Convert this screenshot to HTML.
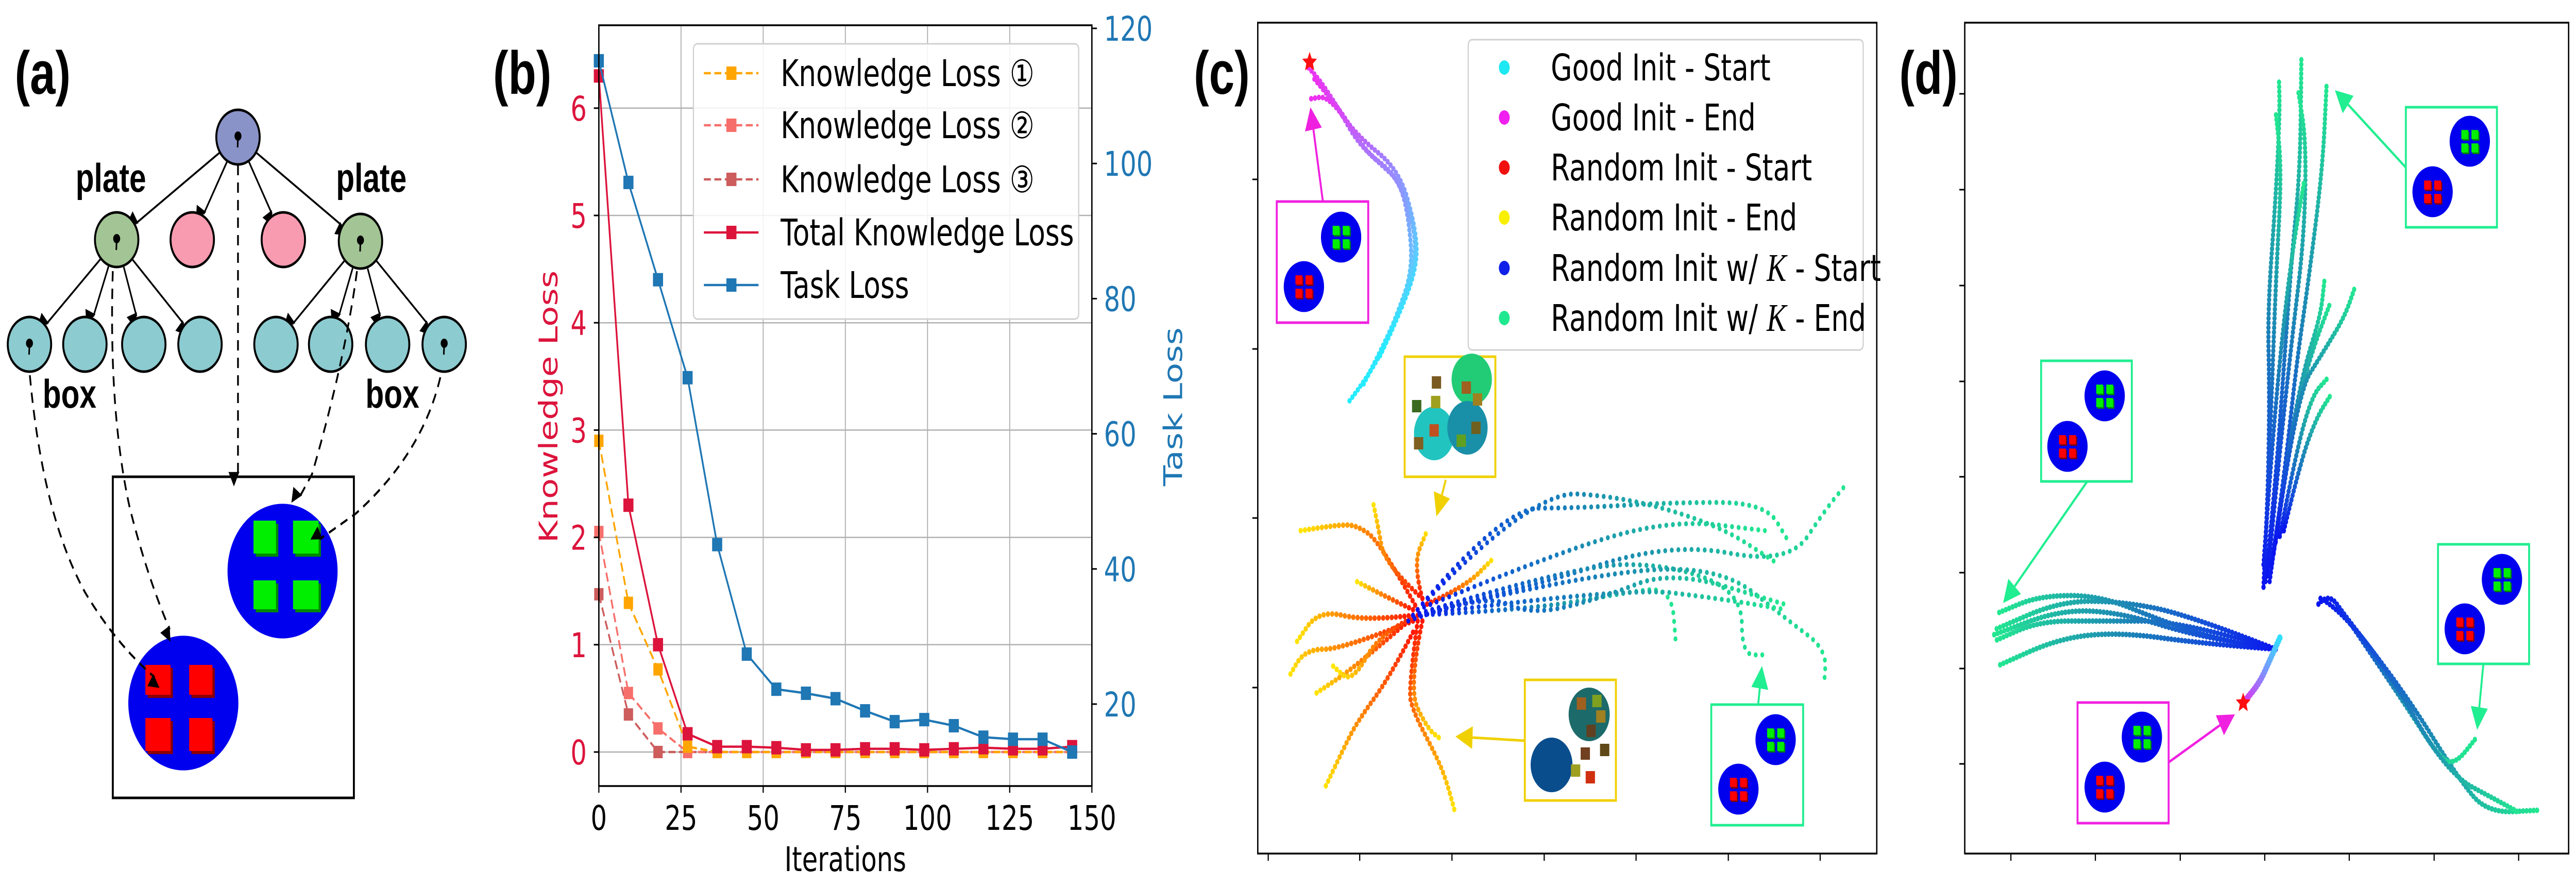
<!DOCTYPE html>
<html><head><meta charset="utf-8"><style>
html,body{margin:0;padding:0;background:#fff;overflow:hidden;width:100vw;height:100vh;}
svg{display:block;width:100vw;height:100vh;}
text{font-family:"DejaVu Sans","Liberation Sans",sans-serif;}
.bold{font-family:"Liberation Sans",sans-serif;font-weight:bold;}
</style></head><body>
<svg id="fig" xmlns="http://www.w3.org/2000/svg" viewBox="0 0 6646 1717" preserveAspectRatio="none">
<defs>
<marker id="ah" viewBox="0 0 10 10" refX="9" refY="5" markerWidth="7" markerHeight="7" orient="auto-start-reverse" markerUnits="userSpaceOnUse" style="overflow:visible">
<path d="M0,0 L10,5 L0,10 z" fill="#000" transform="scale(4)"/></marker>
</defs>
<rect width="6646" height="1717" fill="#fff"/>

<g id="panel-a">
<text class="bold" x="38" y="182" font-size="118">(a)</text>
<text class="bold" x="195" y="372" font-size="78">plate</text>
<text class="bold" x="867" y="372" font-size="78">plate</text>
<text class="bold" x="110" y="791" font-size="78">box</text>
<text class="bold" x="943" y="791" font-size="78">box</text>
<rect x="291" y="925" width="622" height="623" fill="#fff" stroke="#000" stroke-width="5"/>
<g id="a-edges"></g>
<g id="a-nodes"></g>
<g id="a-scene"></g>
<g id="a-dashed"></g>
</g>

<g id="panel-b">
<text class="bold" x="1272" y="182" font-size="118">(b)</text>
<g id="b-grid"></g>
<g id="b-series"></g>
<g id="b-axes"></g>
<g id="b-legend"></g>
</g>

<g id="panel-c">
<text class="bold" x="3080" y="182" font-size="118">(c)</text>
<g id="c-traj"></g>
<g id="c-insets"></g>
<g id="c-axes"></g>
<g id="c-legend"></g>
</g>

<g id="panel-d">
<text class="bold" x="4900" y="182" font-size="118">(d)</text>
<g id="d-traj"></g>
<g id="d-insets"></g>
<g id="d-axes"></g>
</g>
</svg>
<script>
const iterations = [0, 9, 18, 27, 36, 45, 54, 63, 72, 81, 90, 99, 108, 117, 126, 135, 144];
const taskLoss = [115.2, 97.2, 82.8, 68.3, 43.6, 27.4, 22.2, 21.6, 20.8, 19.0, 17.4, 17.7, 16.8, 15.1, 14.8, 14.8, 12.9];
const totalKnowledgeLoss = [6.3, 2.3, 1.0, 0.17, 0.05, 0.05, 0.04, 0.02, 0.02, 0.03, 0.03, 0.02, 0.03, 0.04, 0.03, 0.03, 0.05];
const knowledgeLoss1 = [2.9, 1.39, 0.77, 0.05, 0, 0, 0, 0, 0, 0, 0, 0, 0, 0, 0, 0, 0];
const knowledgeLoss2 = [2.05, 0.55, 0.22, 0, 0, 0, 0, 0, 0, 0, 0, 0, 0, 0, 0, 0, 0];
const knowledgeLoss3 = [1.47, 0.35, 0, 0, 0, 0, 0, 0, 0, 0, 0, 0, 0, 0, 0, 0, 0];
const xTicks = [0, 25, 50, 75, 100, 125, 150];
const leftTicks = [0, 1, 2, 3, 4, 5, 6];
const rightTicks = [20, 40, 60, 80, 100, 120];
const legendLabels = ["Knowledge Loss \u2460", "Knowledge Loss \u2461", "Knowledge Loss \u2462", "Total Knowledge Loss", "Task Loss"];

const cGoodInit = [
 [[315,710],[370,650],[410,570],[450,480],[440,380],[420,320],[380,290],[330,250],[290,190],[250,140],[225,118]],
 [[345,680],[395,600],[440,510],[460,430],[430,340],[400,300],[350,270],[300,200],[240,140]],
 [[380,630],[420,560],[460,470],[455,400],[420,300],[330,240],[270,170],[232,175]]
];
const cRandomInit = [
 [[460,1080],[380,960],[330,930],[290,930],[210,940]],
 [[470,1060],[390,1000],[375,930],[365,890]],
 [[450,1100],[300,1150],[220,1150],[185,1200]],
 [[450,1120],[400,1200],[330,1280],[300,1330],[260,1400]],
 [[460,1100],[440,1220],[450,1260],[500,1340],[520,1380],[540,1440]],
 [[470,1100],[440,1220],[480,1290],[510,1310]],
 [[470,1060],[450,1000],[480,940]],
 [[480,1070],[560,1040],[620,990]],
 [[450,1090],[350,1100],[250,1080],[200,1140]],
 [[440,1100],[330,1180],[240,1230]],
 [[450,1080],[400,1060],[330,1030]],
 [[460,1090],[380,1120],[320,1210],[280,1180]]
];
const cRandomInitK = [
 [[450,1090],[700,1040],[1000,960],[1250,1000],[1330,900],[1375,855]],
 [[460,1080],[640,900],[800,900],[1000,890],[1200,890],[1250,960]],
 [[460,1080],[700,870],[900,880],[1100,930],[1220,995]],
 [[450,1090],[700,1080],[900,1050],[1000,1040],[1010,1145]],
 [[450,1090],[800,1000],[1000,1000],[1150,1050],[1150,1160],[1200,1160]],
 [[450,1090],[800,1020],[1100,1000],[1250,1100],[1330,1150],[1325,1215]],
 [[450,1090],[900,1040],[1100,1060],[1245,1080]],
 [[460,1080],[750,980],[1000,920],[1200,940]],
 [[440,1100],[600,1050],[700,1090],[850,1060],[1000,1010],[1240,1070]]
];
const cLegendLabels = ["Good Init - Start", "Good Init - End", "Random Init - Start", "Random Init - End", "Random Init w/ ", "Random Init w/ "];
const cLegendSuffix = ["", "", "", "", "- Start", "- End"];
const cLegendColors = ["#1ee8f2", "#f020f0", "#f01010", "#f8f000", "#1020e8", "#20e890"];

const dUp = [
 [[800,1040],[810,900],[815,700],[810,550],[830,350],[840,200],[838,140]],
 [[805,1030],[830,850],[850,650],[870,450],[890,300],[893,105]],
 [[810,1020],[840,800],[870,600],[900,420],[905,250],[885,160]],
 [[815,1030],[850,850],[880,650],[910,500],[945,300],[955,150]],
 [[800,1000],[820,800],[845,600],[870,450],[900,320]],
 [[820,1000],[860,800],[900,650],[940,560],[950,495]],
 [[825,980],[870,750],[920,620],[965,535]],
 [[830,960],[880,700],[950,620],[1000,560],[1025,508]],
 [[840,950],[880,800],[920,700],[955,672]],
 [[850,940],[890,820],[930,740],[965,700]],
 [[800,1040],[815,800],[830,500],[845,300],[830,200]]
];
const dLeft = [
 [[830,1150],[700,1135],[550,1100],[400,1055],[250,1055],[150,1085]],
 [[830,1150],[650,1130],[450,1085],[300,1080],[135,1125]],
 [[830,1150],[650,1140],[450,1120],[300,1130],[145,1180]],
 [[830,1150],[600,1100],[400,1100],[250,1100],[140,1135]],
 [[830,1150],[620,1090],[450,1065],[300,1065],[140,1115]]
];
const dRight = [
 [[935,1070],[960,1050],[1000,1090],[1150,1230],[1280,1380],[1350,1440],[1480,1435]],
 [[935,1070],[960,1050],[1000,1090],[1150,1250],[1230,1340],[1270,1355],[1325,1305]],
 [[940,1060],[980,1075],[1100,1180],[1250,1370],[1380,1420],[1430,1440]]
];
const dGood = [[[840,1130],[815,1170],[790,1210],[750,1245]]];

const NS = "http://www.w3.org/2000/svg";
function el(tag, attrs, parent) {
  const e = document.createElementNS(NS, tag);
  for (const k in attrs) e.setAttribute(k, attrs[k]);
  if (parent) parent.appendChild(e);
  return e;
}

(function(){
  const nodes = document.getElementById('a-nodes');
  const edges = document.getElementById('a-edges');
  const R = 56;
  const root = {x:614,y:266,c:'#8a93c8',pin:true,n:'root-node'};
  const l1 = [{x:301,y:465,c:'#a3c494',pin:true,n:'plate-node-left'},{x:496,y:465,c:'#f99bb0',n:'pink-node-1'},{x:731,y:465,c:'#f99bb0',n:'pink-node-2'},{x:930,y:468,c:'#a3c494',pin:true,n:'plate-node-right'}];
  const bx = [76,219,371,516,712,853,1000,1146];
  const l2 = bx.map((x,i)=>({x:x,y:668,c:'#8ccbd0',pin:(i==0||i==7),n:'box-node-'+(i+1)}));
  function edge(a,b){
    const dx=b.x-a.x, dy=b.y-a.y, L=Math.hypot(dx,dy);
    const e = el('line',{x1:a.x+dx/L*R,y1:a.y+dy/L*R,x2:b.x-dx/L*(R+2),y2:b.y-dy/L*(R+2),stroke:'#000','stroke-width':4,'marker-end':'url(#ah)'},edges);
    
    
  }
  l1.forEach(n=>edge(root,n));
  l2.slice(0,4).forEach(n=>edge(l1[0],n));
  l2.slice(4).forEach(n=>edge(l1[3],n));
  [root].concat(l1,l2).forEach(n=>{
    const c = el('ellipse',{cx:n.x,cy:n.y,rx:56,ry:53,fill:n.c,stroke:'#000','stroke-width':5},nodes);
    
    
    if(n.pin){
      el('circle',{cx:n.x,cy:n.y-2,r:9,fill:'#000'},nodes);
      el('line',{x1:n.x,y1:n.y,x2:n.x-1,y2:n.y+20,stroke:'#000','stroke-width':4},nodes);
    }
  });
  const sc = document.getElementById('a-scene');
  function plate(cx,cy,r,col,sq,dark,name){
    const g = el('g',{},sc);
    
    
    el('ellipse',{cx:cx,cy:cy,rx:r,ry:r*0.92,fill:'#0000ee'},g);
    sq.forEach(s=>{
      el('rect',{x:s[0]+6,y:s[1]+6,width:s[2],height:s[3],fill:dark},g);
      el('rect',{x:s[0],y:s[1],width:s[2],height:s[3],fill:col},g);
    });
  }
  plate(729,1108,142,'#00ee00',[[654,1010,58,64],[756,1010,66,64],[654,1126,58,56],[756,1126,66,56]],'#008800','green-plate');
  plate(473,1364,142,'#ff0000',[[375,1290,65,58],[488,1290,60,58],[375,1393,65,64],[488,1393,60,64]],'#8a0000','red-plate');
  const dd = document.getElementById('a-dashed');
  const dpaths = [
    "M77,728 Q110,1000 220,1150 Q300,1250 399,1314",
    "M291,526 Q280,800 335,986 Q380,1120 438,1221",
    "M921,526 Q890,700 805,920 L773,964",
    "M614,320 L614,922",
    "M1136,732 Q1090,880 917,997 L825,1046"
  ];
  dpaths.forEach(d=>{
    const p = el('path',{d:d,fill:'none',stroke:'#000','stroke-width':4.5,'stroke-dasharray':'20 14','marker-end':'url(#ah)'},dd);
    
    
  });
})();

(function(){
  const X0=1545, X1=2817, Y0=49, Y1=1525;
  const xS = v => X0 + (v-0)*(X1-X0)/150;
  const yL = v => 1459 - v*208.2;
  const yR = v => 1366 - (v-20)*13.11;
  const grid = document.getElementById('b-grid');
  xTicks.forEach(t=>{
    const l = el('line',{x1:xS(t),x2:xS(t),y1:Y0,y2:Y1,stroke:'#b0b0b0','stroke-width':2.5},grid);
    
    
  });
  leftTicks.forEach(t=>{
    const l = el('line',{x1:X0,x2:X1,y1:yL(t),y2:yL(t),stroke:'#b0b0b0','stroke-width':2.5},grid);
    
    
  });
  const ser = document.getElementById('b-series');
  function series(vals, yf, color, dash, name, msize){
    const g = el('g',{},ser);
    
    
    const pts = vals.map((v,i)=>xS(iterations[i])+','+yf(v)).join(' ');
    const a = {points:pts,fill:'none',stroke:color,'stroke-width':4.5};
    if(dash) a['stroke-dasharray']='18 9';
    el('polyline',a,g);
    vals.forEach((v,i)=>{
      const m = el('rect',{x:xS(iterations[i])-msize/2,y:yf(v)-msize/2,width:msize,height:msize,fill:color},g);
      
      
    });
  }
  series(knowledgeLoss3, yL, '#cd5c5c', true, 'knowledge-loss-3-series', 24);
  series(knowledgeLoss2, yL, '#f76f6a', true, 'knowledge-loss-2-series', 24);
  series(knowledgeLoss1, yL, '#ffa500', true, 'knowledge-loss-1-series', 24);
  series(totalKnowledgeLoss, yL, '#dc143c', false, 'total-knowledge-loss-series', 26);
  series(taskLoss, yR, '#1f77b4', false, 'task-loss-series', 26);
  const ax = document.getElementById('b-axes');
  const fr = el('rect',{x:X0,y:Y0,width:X1-X0,height:Y1-Y0,fill:'none',stroke:'#000','stroke-width':3.5},ax);
  
  
  xTicks.forEach(t=>{
    el('line',{x1:xS(t),x2:xS(t),y1:Y1,y2:Y1+13,stroke:'#000','stroke-width':3},ax);
    const tx = el('text',{x:xS(t),y:1610,'font-size':66,'text-anchor':'middle',fill:'#000'},ax);
    tx.textContent = t;
    
    
  });
  leftTicks.forEach(t=>{
    el('line',{x1:X0,x2:X0-13,y1:yL(t),y2:yL(t),stroke:'#000','stroke-width':3},ax);
    const tx = el('text',{x:1514,y:yL(t)+24,'font-size':66,'text-anchor':'end',fill:'#dc143c'},ax);
    tx.textContent = t;
    
    
  });
  rightTicks.forEach(t=>{
    el('line',{x1:X1,x2:X1+13,y1:yR(t),y2:yR(t),stroke:'#000','stroke-width':3},ax);
    const tx = el('text',{x:2848,y:yR(t)+24,'font-size':66,'text-anchor':'start',fill:'#1f77b4'},ax);
    tx.textContent = t;
    
    
  });
  let t = el('text',{x:2181,y:1690,'font-size':66,'text-anchor':'middle'},ax);
  t.textContent='Iterations';
  
  
  t = el('text',{x:0,y:0,'font-size':66,'text-anchor':'middle',fill:'#dc143c',transform:'translate(1438,789) rotate(-90)'},ax);
  t.textContent='Knowledge Loss';
  
  
  t = el('text',{x:0,y:0,'font-size':66,'text-anchor':'middle',fill:'#1f77b4',transform:'translate(3050,789) rotate(-90)'},ax);
  t.textContent='Task Loss';
  
  
  const lg = document.getElementById('b-legend');
  const lb = el('rect',{x:1789,y:85,width:994,height:534,rx:10,fill:'#fff','fill-opacity':0.85,stroke:'#d0d0d0','stroke-width':3},lg);
  
  
  const cols=['#ffa500','#f76f6a','#cd5c5c','#dc143c','#1f77b4'];
  const ys=[142,243,348,451,553];
  legendLabels.forEach((lab,i)=>{
    const g = el('g',{},lg);
    
    
    const a={x1:1816,x2:1957,y1:ys[i],y2:ys[i],stroke:cols[i],'stroke-width':4.5};
    if(i<3) a['stroke-dasharray']='18 9';
    el('line',a,g);
    el('rect',{x:1874,y:ys[i]-13,width:26,height:26,fill:cols[i]},g);
    const tx = el('text',{x:2014,y:ys[i]+25,'font-size':71},g);
    tx.textContent = lab;
  });
})();

let gradId = 0;
function traj(parent, pts, mx, my, stops, spacing, width, name){
  const P = pts.map(p=>[mx(p[0]),my(p[1])]);
  const id = 'tg'+(gradId++);
  const defs = document.querySelector('defs');
  const lg = el('linearGradient',{id:id,gradientUnits:'userSpaceOnUse',x1:P[0][0],y1:P[0][1],x2:P[P.length-1][0],y2:P[P.length-1][1]},defs);
  stops.forEach((c,i)=>el('stop',{offset:i/(stops.length-1),'stop-color':c},lg));
  let d='M'+P[0][0]+','+P[0][1];
  for(let i=1;i<P.length;i++){
    if(i<P.length-1){
      const mxp=(P[i][0]+P[i+1][0])/2, myp=(P[i][1]+P[i+1][1])/2;
      d+=' Q'+P[i][0]+','+P[i][1]+' '+mxp+','+myp;
    } else d+=' L'+P[i][0]+','+P[i][1];
  }
  const p = el('path',{d:d,fill:'none',stroke:'url(#'+id+')','stroke-width':width,'stroke-linecap':'round','stroke-dasharray':'0 '+spacing},parent);
  
  
}
function star(parent,x,y,r,name){
  let d='';
  for(let i=0;i<10;i++){const a=-Math.PI/2+i*Math.PI/5, rr=i%2?r*0.45:r; d+=(i?'L':'M')+(x+rr*Math.cos(a))+','+(y+rr*Math.sin(a));}
  const s = el('path',{d:d+'z',fill:'#ff1010'},parent);
  
  
}
function inset(parent,x,y,w,h,color,name){
  const r = el('rect',{x:x,y:y,width:w,height:h,fill:'#fff',stroke:color,'stroke-width':5},parent);
  
  
}
function platePair(parent,gx,gy,rx,ry,r){
  [[gx,gy,'#00ee00','#008800'],[rx,ry,'#ff0000','#8a0000']].forEach(p=>{
    el('ellipse',{cx:p[0],cy:p[1],rx:r,ry:r*0.95,fill:'#0000ee'},parent);
    const s=r*0.34, o=r*0.08;
    [[-1,-1],[1,-1],[-1,1],[1,1]].forEach(q=>{
      const qx=p[0]+q[0]*(s/2+o)-s/2, qy=p[1]+q[1]*(s/2+o)-s/2;
      el('rect',{x:qx+3,y:qy+3,width:s,height:s,fill:p[3]},parent);
      el('rect',{x:qx,y:qy,width:s,height:s,fill:p[2]},parent);
    });
  });
}
function arrow(parent,x1,y1,x2,y2,color,name){
  const dx=x2-x1, dy=y2-y1, L=Math.hypot(dx,dy), ux=dx/L, uy=dy/L, hl=44, hw=22;
  const l = el('line',{x1:x1,y1:y1,x2:x2-ux*hl,y2:y2-uy*hl,stroke:color,'stroke-width':5},parent);
  
  
  const bx=x2-ux*hl, by=y2-uy*hl;
  el('path',{d:`M${x2},${y2} L${bx-uy*hw},${by+ux*hw} L${bx+uy*hw},${by-ux*hw} z`,fill:color},parent);
}

(function(){
  const mx = v => 3100 + v/0.825, my = v => v/0.913;
  const g = document.getElementById('c-traj');
  cRandomInit.forEach(p=>traj(g,p,mx,my,['#ff1500','#ff5a00','#ff9a00','#ffe800'],11,11,'random-init-trajectory'));
  cRandomInitK.forEach(p=>traj(g,p,mx,my,['#0a14f0','#1060d0','#1c8fb0','#20c0a0','#22e890'],17,10,'random-init-k-trajectory'));
  cGoodInit.forEach(p=>traj(g,p,mx,my,['#22eeff','#60c8ff','#a080ff','#ee30f0'],10,11,'good-init-trajectory'));
  star(g,mx(230),my(110),20,'good-init-goal-star');
  const ins = document.getElementById('c-insets');
  inset(ins,3294,391,236,235,'#f020e0','inset-good-init');
  platePair(ins,3460,460,3364,556,52);
  arrow(ins,3413,391,3381,208,'#f020e0','inset-good-init-arrow');
  inset(ins,3624,692,234,233,'#f0d000','inset-random-init-1');
  el('ellipse',{cx:3797,cy:736,rx:52,ry:50,fill:'#22cc77'},ins);
  el('ellipse',{cx:3700,cy:841,rx:52,ry:52,fill:'#22c4c0'},ins);
  el('ellipse',{cx:3786,cy:830,rx:52,ry:52,fill:'#1a8fa8'},ins);
  [[3706,742,'#7a5a20'],[3655,788,'#3a6a20'],[3704,780,'#a0a020'],[3700,835,'#c05020'],[3660,860,'#806020'],[3783,752,'#a06020'],[3812,775,'#a08020'],[3808,830,'#706020'],[3770,855,'#60a020']].forEach(c=>el('rect',{x:c[0]-12,y:c[1]-12,width:24,height:24,fill:c[2]},ins));
  arrow(ins,3730,931,3706,1002,'#f0d000','inset-random-init-1-arrow');
  inset(ins,3934,1319,235,234,'#f0d000','inset-random-init-2');
  el('ellipse',{cx:4003,cy:1484,rx:54,ry:53,fill:'#0a4d8c'},ins);
  el('ellipse',{cx:4100,cy:1386,rx:53,ry:52,fill:'#1d6a6a'},ins);
  [[4080,1365,'#a06020'],[4120,1360,'#80a020'],[4130,1390,'#a08020'],[4105,1418,'#604020'],[4090,1462,'#704020'],[4140,1455,'#604818'],[4065,1495,'#a0a020'],[4103,1508,'#d03010']].forEach(c=>el('rect',{x:c[0]-12,y:c[1]-12,width:24,height:24,fill:c[2]},ins));
  arrow(ins,3934,1437,3755,1429,'#f0d000','inset-random-init-2-arrow');
  inset(ins,4415,1367,237,234,'#20ee90','inset-random-init-k');
  platePair(ins,4581,1435,4485,1531,52);
  arrow(ins,4536,1367,4546,1292,'#20ee90','inset-random-init-k-arrow');
  const ax = document.getElementById('c-axes');
  const fr = el('rect',{x:3245,y:44,width:1597,height:1612,fill:'none',stroke:'#000','stroke-width':3.5},ax);
  
  
  [3272,3508,3746,3984,4221,4459,4696].forEach(x=>el('line',{x1:x,x2:x,y1:1656,y2:1670,stroke:'#000','stroke-width':3},ax));
  [348,677,1005,1334].forEach(y=>el('line',{x1:3245,x2:3231,y1:y,y2:y,stroke:'#000','stroke-width':3},ax));
  const lg = document.getElementById('c-legend');
  const lb = el('rect',{x:3788,y:77,width:1019,height:602,rx:10,fill:'#fff','fill-opacity':0.85,stroke:'#d0d0d0','stroke-width':3},lg);
  
  
  const ys=[131,228,325,422,520,617];
  cLegendLabels.forEach((lab,i)=>{
    const g2 = el('g',{},lg);
    
    
    el('circle',{cx:3881,cy:ys[i],r:14,fill:cLegendColors[i]},g2);
    const tx = el('text',{x:4001,y:ys[i]+25,'font-size':71},g2);
    tx.appendChild(document.createTextNode(lab));
    if(i>=4){
      const k = el('tspan',{'font-family':'"Liberation Serif",serif','font-style':'italic','font-size':76},tx);
      k.textContent='K';
      const s = el('tspan',{},tx);
      s.textContent=' '+cLegendSuffix[i];
    }
  });
})();

(function(){
  const mx = v => 5000 + v/0.9526, my = v => v/0.913;
  const g = document.getElementById('d-traj');
  const st = ['#0a14f0','#1450d8','#1c80b8','#20b0a8','#22e890'];
  dUp.forEach(p=>traj(g,p,mx,my,st,9,11,'up-trajectory'));
  dLeft.forEach(p=>traj(g,p,mx,my,st,9,11,'left-trajectory'));
  dRight.forEach(p=>traj(g,p,mx,my,st,9,11,'right-trajectory'));
  dGood.forEach(p=>traj(g,p,mx,my,['#30e0ff','#8090ff','#e030f0'],7,14,'good-init-trajectory'));
  star(g,mx(750),my(1245),20,'good-init-goal-star');
  const ins = document.getElementById('d-insets');
  inset(ins,6207,208,235,233,'#20ee90','inset-top-right');
  platePair(ins,6372,274,6276,372,52);
  arrow(ins,6207,325,6024,175,'#20ee90','inset-top-right-arrow');
  inset(ins,5266,700,234,234,'#20ee90','inset-left');
  platePair(ins,5430,768,5334,866,52);
  arrow(ins,5385,934,5168,1170,'#20ee90','inset-left-arrow');
  inset(ins,6290,1056,235,232,'#20ee90','inset-right');
  platePair(ins,6455,1124,6359,1220,52);
  arrow(ins,6407,1288,6391,1416,'#20ee90','inset-right-arrow');
  inset(ins,5360,1363,235,234,'#f020e0','inset-good-init');
  platePair(ins,5526,1430,5430,1527,52);
  arrow(ins,5595,1479,5766,1386,'#f020e0','inset-good-init-arrow');
  const ax = document.getElementById('d-axes');
  const fr = el('rect',{x:5069,y:44,width:1558,height:1612,fill:'none',stroke:'#000','stroke-width':3.5},ax);
  
  
  [5188,5406,5625,5843,6061,6280,6498].forEach(x=>el('line',{x1:x,x2:x,y1:1656,y2:1670,stroke:'#000','stroke-width':3},ax));
  [182,368,554,740,925,1111,1297,1482].forEach(y=>el('line',{x1:5069,x2:5055,y1:y,y2:y,stroke:'#000','stroke-width':3},ax));
})();
</script>
</body></html>
